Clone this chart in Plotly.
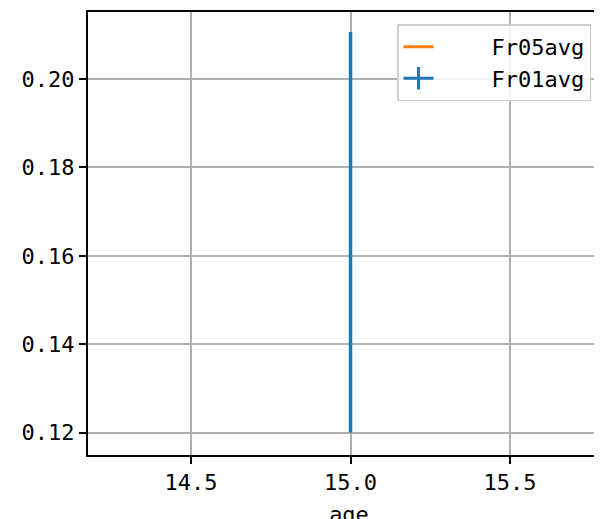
import plotly.graph_objects as go

# Data
age = [15.0]
fr05avg = [0.1653]
fr01avg = [0.1653]
fr01err = [0.0453]

x_tickvals = [14.5, 15.0, 15.5]
x_ticktext = ["14.5", "15.0", "15.5"]
y_tickvals = [0.12, 0.14, 0.16, 0.18, 0.20]
y_ticktext = ["0.12", "0.14", "0.16", "0.18", "0.20"]

FONT = "DejaVu Sans Mono, Liberation Mono, monospace"
PAD = "\u00a0" * 4

fig = go.Figure()
fig.add_trace(go.Scatter(
    x=age, y=fr05avg, name=PAD + "Fr05avg", mode="lines",
    line=dict(color="#ff7f0e", width=3),
))
fig.add_trace(go.Scatter(
    x=age, y=fr01avg, name=PAD + "Fr01avg", mode="lines+markers",
    line=dict(color="#1f77b4", width=3),
    marker=dict(symbol="line-ns-open", size=16, color="#1f77b4",
                line=dict(color="#1f77b4", width=3)),
    error_y=dict(type="data", array=fr01err, visible=True,
                 color="#1f77b4", thickness=3.5, width=0),
))

fig.update_layout(
    width=602, height=519,
    margin=dict(l=80, r=0, t=4, b=72),
    paper_bgcolor="white", plot_bgcolor="white",
    font=dict(family=FONT, size=22, color="black"),
    showlegend=True,
    legend=dict(
        x=0.592, y=0.972, xanchor="left", yanchor="top",
        bgcolor="rgba(255,255,255,0.85)", bordercolor="#cccccc", borderwidth=1.5,
        font=dict(family=FONT, size=22, color="black"),
        traceorder="normal",
    ),
)

fig.update_xaxes(
    range=[14.177, 15.8135],
    tickvals=x_tickvals, ticktext=x_ticktext,
    showgrid=True, gridcolor="#b0b0b0", gridwidth=1.6,
    showline=True, linecolor="black", linewidth=2, mirror=True,
    ticks="outside", ticklen=7, tickwidth=2, tickcolor="black",
    zeroline=False, automargin=False,
    title=dict(text="age", standoff=22, font=dict(family=FONT, size=22)),
)
fig.update_yaxes(
    range=[0.11497, 0.21514],
    tickvals=y_tickvals, ticktext=y_ticktext,
    showgrid=True, gridcolor="#b0b0b0", gridwidth=1.6,
    showline=True, linecolor="black", linewidth=2, mirror=False,
    ticks="outside", ticklen=7, tickwidth=2, tickcolor="black",
    zeroline=False, automargin=False,
)

fig.write_html("out.html")
